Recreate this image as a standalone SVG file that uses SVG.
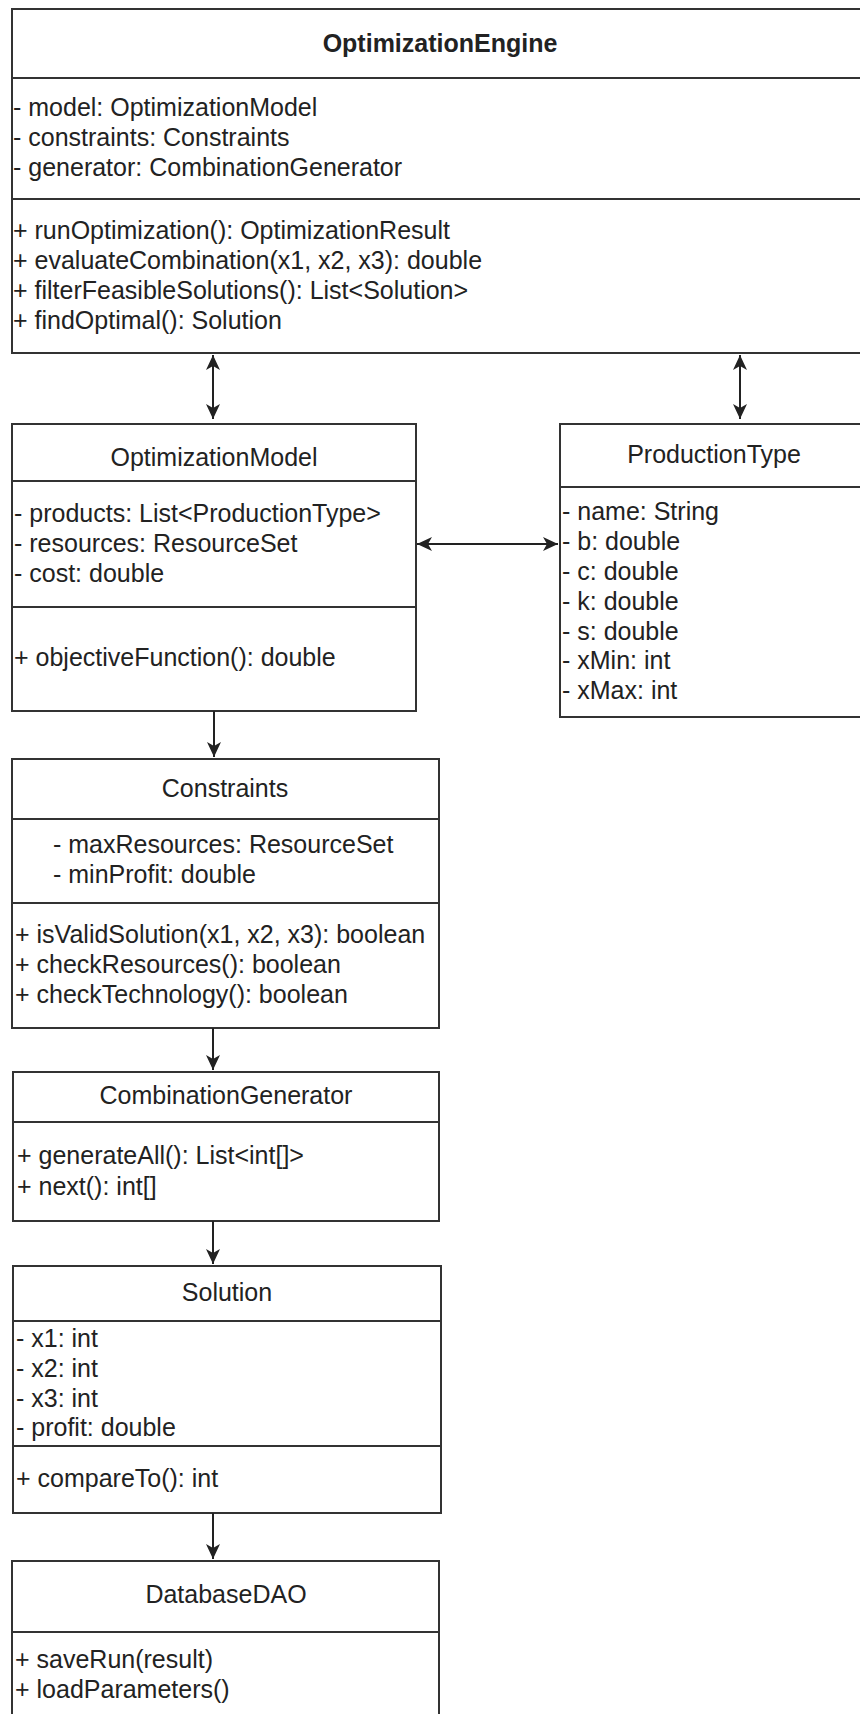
<svg xmlns="http://www.w3.org/2000/svg" width="860" height="1714" viewBox="0 0 860 1714">
<defs>
<style>
.box{fill:#fff;stroke:#333;stroke-width:2}
.sep{stroke:#333;stroke-width:2}
text{font-family:"Liberation Sans",Arial,sans-serif;font-size:25px;fill:#222}
.t{text-anchor:middle}
.b{font-weight:bold}
.con{stroke:#222;stroke-width:2;fill:none}
</style>
<marker id="ah" markerUnits="userSpaceOnUse" markerWidth="15" markerHeight="14" refX="15" refY="7" orient="auto-start-reverse" viewBox="0 0 15 14">
<path d="M0,0 L15,7 L0,14 L4,7 Z" fill="#222"/>
</marker>
</defs>
<rect width="860" height="1714" fill="#fff"/>

<g id="OptimizationEngine">
<rect class="box" x="12" y="9" width="856" height="344"/>
<line class="sep" x1="12" y1="78" x2="868" y2="78"/>
<line class="sep" x1="12" y1="199" x2="868" y2="199"/>
<text class="t b" x="440" y="52">OptimizationEngine</text>
<text x="13" y="116">- model: OptimizationModel</text>
<text x="13" y="146">- constraints: Constraints</text>
<text x="13" y="176">- generator: CombinationGenerator</text>
<text x="13" y="239">+ runOptimization(): OptimizationResult</text>
<text x="13" y="269">+ evaluateCombination(x1, x2, x3): double</text>
<text x="13" y="299">+ filterFeasibleSolutions(): List&lt;Solution&gt;</text>
<text x="13" y="329">+ findOptimal(): Solution</text>
</g>

<g id="OptimizationModel">
<rect class="box" x="12" y="424" width="404" height="287"/>
<line class="sep" x1="12" y1="481" x2="416" y2="481"/>
<line class="sep" x1="12" y1="607" x2="416" y2="607"/>
<text class="t" x="214" y="466">OptimizationModel</text>
<text x="14" y="522">- products: List&lt;ProductionType&gt;</text>
<text x="14" y="552">- resources: ResourceSet</text>
<text x="14" y="582">- cost: double</text>
<text x="14" y="666">+ objectiveFunction(): double</text>
</g>

<g id="ProductionType">
<rect class="box" x="560" y="424" width="308" height="293"/>
<line class="sep" x1="560" y1="487" x2="868" y2="487"/>
<text class="t" x="714" y="463">ProductionType</text>
<text x="562" y="520">- name: String</text>
<text x="562" y="550">- b: double</text>
<text x="562" y="580">- c: double</text>
<text x="562" y="610">- k: double</text>
<text x="562" y="640">- s: double</text>
<text x="562" y="669">- xMin: int</text>
<text x="562" y="699">- xMax: int</text>
</g>

<g id="Constraints">
<rect class="box" x="12" y="759" width="427" height="269"/>
<line class="sep" x1="12" y1="819" x2="439" y2="819"/>
<line class="sep" x1="12" y1="903" x2="439" y2="903"/>
<text class="t" x="225" y="797">Constraints</text>
<text x="53" y="853">- maxResources: ResourceSet</text>
<text x="53" y="883">- minProfit: double</text>
<text x="15" y="943">+ isValidSolution(x1, x2, x3): boolean</text>
<text x="15" y="973">+ checkResources(): boolean</text>
<text x="15" y="1003">+ checkTechnology(): boolean</text>
</g>

<g id="CombinationGenerator">
<rect class="box" x="13" y="1072" width="426" height="149"/>
<line class="sep" x1="13" y1="1122" x2="439" y2="1122"/>
<text class="t" x="226" y="1104">CombinationGenerator</text>
<text x="17" y="1164">+ generateAll(): List&lt;int[]&gt;</text>
<text x="17" y="1195">+ next(): int[]</text>
</g>

<g id="Solution">
<rect class="box" x="13" y="1266" width="428" height="247"/>
<line class="sep" x1="13" y1="1321" x2="441" y2="1321"/>
<line class="sep" x1="13" y1="1446" x2="441" y2="1446"/>
<text class="t" x="227" y="1301">Solution</text>
<text x="16" y="1347">- x1: int</text>
<text x="16" y="1377">- x2: int</text>
<text x="16" y="1407">- x3: int</text>
<text x="16" y="1436">- profit: double</text>
<text x="16" y="1487">+ compareTo(): int</text>
</g>

<g id="DatabaseDAO">
<rect class="box" x="12" y="1561" width="427" height="170"/>
<line class="sep" x1="12" y1="1632" x2="439" y2="1632"/>
<text class="t" x="226" y="1603">DatabaseDAO</text>
<text x="15" y="1668">+ saveRun(result)</text>
<text x="15" y="1698">+ loadParameters()</text>
</g>

<g id="connectors">
<line class="con" x1="213" y1="355" x2="213" y2="419" marker-start="url(#ah)" marker-end="url(#ah)"/>
<line class="con" x1="740" y1="355" x2="740" y2="419" marker-start="url(#ah)" marker-end="url(#ah)"/>
<line class="con" x1="417" y1="544" x2="558" y2="544" marker-start="url(#ah)" marker-end="url(#ah)"/>
<line class="con" x1="214" y1="711" x2="214" y2="757" marker-end="url(#ah)"/>
<line class="con" x1="213" y1="1028" x2="213" y2="1070" marker-end="url(#ah)"/>
<line class="con" x1="213" y1="1221" x2="213" y2="1264" marker-end="url(#ah)"/>
<line class="con" x1="213" y1="1513" x2="213" y2="1559" marker-end="url(#ah)"/>
</g>
</svg>
